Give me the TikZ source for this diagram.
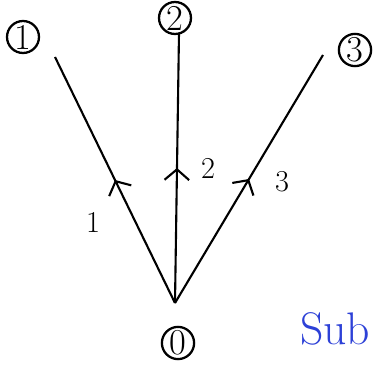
\documentclass[tikz,border=0pt]{standalone}
\usepackage{xcolor}
\usetikzlibrary{arrows.meta, decorations.markings}

\definecolor{penblue}{RGB}{45,65,215}

\begin{document}
\begin{tikzpicture}[
  x=0.02cm, y=-0.02cm,
  vertex/.style={draw, circle, line width=1.3pt, minimum size=0.64cm, inner sep=0.5pt, font=\huge},
  edge/.style={line width=1.2pt, postaction={decorate},
               decoration={markings, mark=at position 0.5 with
                 {\arrow{Straight Barb[length=6pt, width=14pt, line width=1.2pt]}}}},
  lbl/.style={font=\LARGE},
]
\useasboundingbox (0,0) rectangle (373,368);

\node[vertex] (n0) at (178,343) {0};
\node[vertex] (n1) at (23,37)   {1};
\node[vertex] (n2) at (175,18)  {2};
\node[vertex] (n3) at (355,50)  {3};

% meeting point and free ends of the three lines
\coordinate (o)  at (175,303);
\coordinate (t1) at (55,57);
\coordinate (t2) at (179,33);
\coordinate (t3) at (323,55);

\draw[edge] (o) -- (t1);
\draw[edge] (o) -- (t2);
\draw[edge] (o) -- (t3);

\node[lbl] (l1) at (93,222)  {1};
\node[lbl] (l2) at (208,168) {2};
\node[lbl] (l3) at (282,182) {3};

\node[anchor=base west, text=penblue, font=\fontsize{26}{28}\selectfont] (sub) at (294,345) {Sub};

\end{tikzpicture}
\end{document}
